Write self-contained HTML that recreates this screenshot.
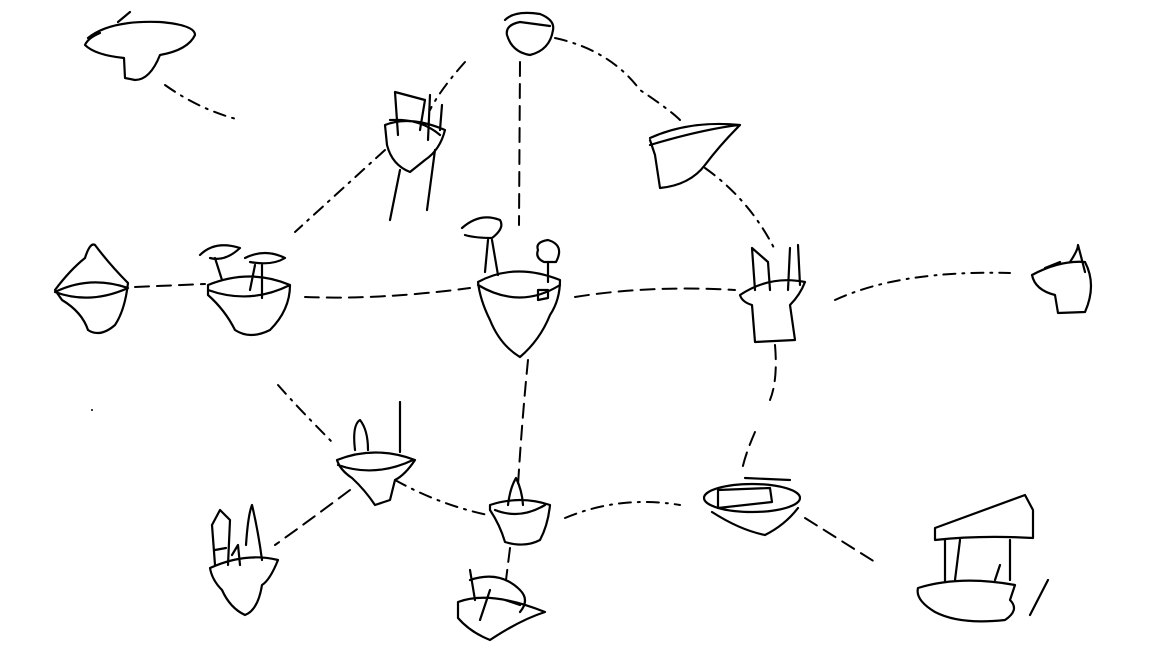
<!DOCTYPE html>
<html><head><meta charset="utf-8"><style>
html,body{margin:0;padding:0;background:#fff;}
svg{display:block}
path,line,ellipse,polyline{fill:none;stroke:#000;stroke-width:2.2;stroke-linecap:round;stroke-linejoin:round}
.d{stroke-dasharray:12 7 2 7;stroke-width:2}
.e{stroke-dasharray:14 8;stroke-width:2}
</style></head><body>
<svg width="1152" height="648" viewBox="0 0 1152 648" xmlns="http://www.w3.org/2000/svg">
<!-- connectors -->
<path class="d" d="M165 85 Q200 110 240 120"/>
<path class="d" d="M555 38 Q610 50 640 90 Q670 110 680 120"/>
<path class="e" d="M520 62 L519 225"/>
<path class="d" d="M465 62 Q440 90 430 110"/>
<path class="d" d="M385 150 Q330 200 295 232"/>
<path class="d" d="M705 168 Q750 200 775 250"/>
<path class="e" d="M135 287 L205 284"/>
<path class="e" d="M305 297 Q380 300 470 288"/>
<path class="e" d="M575 297 Q650 285 735 290"/>
<path class="d" d="M835 300 Q900 270 1010 273"/>
<path class="e" d="M528 360 Q522 420 518 485"/>
<path class="d" d="M278 385 Q300 410 335 445"/>
<path class="d" d="M395 480 Q440 505 488 515"/>
<path class="e" d="M350 490 Q310 520 275 545"/>
<path class="d" d="M565 518 Q620 495 680 505"/>
<path class="e" d="M775 345 Q778 380 770 400"/>
<path class="e" d="M755 432 Q745 455 742 470"/>
<path class="e" d="M805 518 Q840 540 875 562"/>
<path class="e" d="M510 548 L506 580"/>
<!-- 1 top-left -->
<path d="M88 38 Q110 20 160 22 Q195 25 195 35 Q188 50 160 55 Q150 80 135 80 L125 78 L124 58 Q95 55 85 45 Q88 38 100 33 M118 22 L130 12"/>
<!-- 2 top center -->
<path d="M505 20 Q515 10 540 14 Q555 20 553 30 Q550 50 530 55 Q512 52 507 35 Q505 25 520 22 L550 26"/>
<!-- 3 posts island -->
<path d="M385 125 Q410 115 445 130 Q440 150 425 160 L410 172 Q392 165 387 145 Z M390 120 Q420 118 440 135 M395 92 L398 135 M395 92 L425 100 L420 130 M430 95 L428 140 M442 105 L440 130 M400 170 L390 220 M435 150 L427 210"/>
<!-- 4 wedge -->
<path d="M650 138 Q690 120 740 125 Q720 145 705 165 Q690 185 660 188 L655 155 L650 140 M650 145 Q700 130 738 125"/>
<!-- 5 left diamond -->
<path d="M55 290 Q70 270 85 258 Q90 242 95 245 Q110 265 128 283 Q125 310 115 325 Q100 338 88 330 Q82 312 62 300 Z M55 292 Q90 275 128 288 Q90 305 55 292"/>
<!-- 6 -->
<path d="M208 285 Q250 268 290 285 Q290 310 270 330 Q250 340 235 330 Q225 310 208 295 Z M208 290 Q250 305 290 285 M200 255 Q215 240 240 248 Q225 262 210 258 M215 258 L222 280 M245 258 Q265 248 285 258 Q272 266 250 262 M262 265 L262 298 M255 265 L250 290"/>
<!-- 7 center -->
<path d="M478 282 Q515 262 560 280 Q560 300 550 315 Q540 340 520 357 Q500 345 490 320 Q480 300 478 282 Z M478 285 Q520 310 560 285 M462 228 Q480 212 500 220 Q505 228 492 238 Q475 238 465 235 M488 240 L485 272 M492 240 L498 275 M538 250 Q535 242 548 240 Q565 245 556 262 L544 262 Q535 258 538 250 M548 262 L548 282 M538 290 L538 300 L548 298 L548 290 Z"/>
<!-- 8 -->
<path d="M740 295 Q770 275 805 282 Q800 295 790 305 L795 340 L755 342 L752 305 Q742 302 740 295 Z M752 248 L755 290 M752 248 L768 262 L770 290 M790 248 L788 290 M798 245 L800 285"/>
<!-- 9 right -->
<path d="M1032 275 Q1060 260 1085 262 Q1097 285 1085 312 L1058 313 L1055 295 Q1035 290 1032 275 Z M1045 268 L1060 262 M1070 262 Q1078 250 1078 245 Q1082 260 1085 272"/>
<!-- 10 -->
<path d="M337 460 Q375 445 415 460 Q405 475 395 480 L390 500 L375 505 Q365 490 352 478 Q340 470 337 460 Z M338 465 Q375 478 413 460 M355 450 Q352 425 360 420 Q368 430 368 450 M400 402 L400 452"/>
<!-- 11 -->
<path d="M490 505 Q520 495 550 505 Q548 525 540 540 Q525 548 505 542 Q500 525 490 510 Z M495 510 Q520 520 545 505 M508 505 Q510 488 516 478 Q522 490 523 505"/>
<!-- 12 -->
<ellipse cx="752" cy="498" rx="48" ry="14"/>
<path d="M718 490 L770 488 L772 502 L718 508 Z M712 512 Q740 530 765 535 Q785 525 798 508 M745 478 L790 480"/>
<!-- 13 -->
<path d="M210 568 Q245 552 278 560 Q270 580 262 585 Q258 610 245 615 Q230 608 222 590 Q212 580 210 568 Z M212 525 L220 510 L230 520 L228 565 M212 525 L215 565 M215 550 L226 548 M246 545 Q248 515 252 505 Q258 530 262 560 M232 555 L238 545 L240 565"/>
<!-- 14 -->
<path d="M458 602 Q490 590 545 612 Q520 620 490 640 Q470 632 458 618 Z M470 570 L475 600 M470 580 Q500 570 520 590 Q530 600 520 612 M490 590 L480 620 M505 600 L520 605"/>
<!-- 15 -->
<path d="M918 588 Q960 575 1015 585 L1010 600 Q1020 610 1005 620 Q960 625 935 612 Q915 600 918 588 Z M935 528 L1025 495 L1033 510 L1033 538 Q980 535 935 540 Z M945 540 L945 582 M960 540 L955 580 M1010 540 L1010 580 M1048 580 L1030 615 M995 580 L1000 565"/>
<circle cx="92" cy="410" r="1" fill="#000"/>
</svg>
</body></html>
